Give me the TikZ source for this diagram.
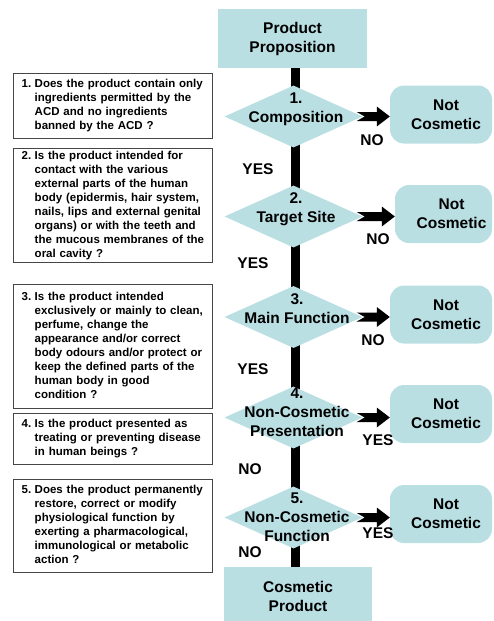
\documentclass[tikz,border=0pt]{standalone}
\usepackage{fontspec}
\setmainfont{Liberation Sans}
\usetikzlibrary{shapes.geometric,calc}
\definecolor{teal1}{RGB}{185,223,227}
\definecolor{boxgray}{RGB}{70,70,70}
\newcommand\bigfont{\fontsize{15.5}{19}\selectfont\bfseries}
\newcommand\smallfont{\fontsize{11.5}{14}\selectfont\bfseries}
\newcommand\qtext[2]{\begin{tabular}{@{}l@{\hspace{3.5pt}}l@{}}#1&#2\end{tabular}}
\newcommand\blockarrow[2]{%
  \fill[black] let \p1=($(#1.east)+(-6pt,0pt)$), \p2=(#1.east -| #2.west) in
    (\x1,\y1+4.5pt) -- (\x2-13pt,\y1+4.5pt) -- (\x2-13pt,\y1+10pt) -- (\x2,\y1)
    -- (\x2-13pt,\y1-10pt) -- (\x2-13pt,\y1-4.5pt) -- (\x1,\y1-4.5pt)
    -- (\x1+8pt,\y1) -- cycle;}
\begin{document}
\begin{tikzpicture}[x=1pt,y=-1pt,
  term/.style={fill=teal1, minimum width=149pt, minimum height=59pt, inner sep=0pt, align=center, font=\bigfont},
  nc/.style={fill=teal1, rounded corners=14pt, minimum height=58pt, inner sep=0pt},
  nctext/.style={align=center, font=\bigfont, inner sep=0pt},
  dia/.style={diamond, fill=teal1, minimum width=138pt, minimum height=62pt, inner sep=0pt},
  dtext/.style={align=center, font=\bigfont, inner sep=0pt},
  lbl/.style={font=\bigfont, inner sep=0pt},
  qbox/.style={draw=boxgray, line width=1.3pt, anchor=north west, text width=183pt, inner xsep=8pt, inner ysep=0pt, font=\smallfont, align=left},
  spine/.style={line width=9pt, black}]
\useasboundingbox (0,0) rectangle (494,621);

% terminal boxes
\node[term] (top) at (292.5,38.5) {Product\\Proposition};
\node[term, minimum width=148pt, anchor=north] (bot) at (298,567) {Cosmetic\\Product};

% spine
\draw[spine] ([xshift=3pt]top.south) -- ([xshift=-2.5pt]bot.north);

% diamonds
\node[dia] (d1) at (293.5,116.5) {};
\node[dia] (d2) at (293.5,216.5) {};
\node[dia] (d3) at (293.5,317) {};
\node[dia] (d4) at (293.5,417.5) {};
\node[dia] (d5) at (293.5,517.5) {};
\node[dtext] (t1) at (296,109) {1.\\Composition};
\node[dtext] (t2) at (296,209) {2.\\Target Site};
\node[dtext] (t3) at (297,308.5) {3.\\Main Function};
\node[dtext] (t4) at (297,412) {4.\\Non-Cosmetic\\Presentation};
\node[dtext] (t5) at (297,517) {5.\\Non-Cosmetic\\Function};

% not cosmetic boxes
\node[nc, minimum width=102pt] (n1) at (441,114.5) {};
\node[nc, minimum width=97pt] (n2) at (443.5,214) {};
\node[nc, minimum width=102pt] (n3) at (441,314.5) {};
\node[nc, minimum width=102pt] (n4) at (441,414) {};
\node[nc, minimum width=102pt] (n5) at (441,514) {};
\node[nctext] (m1) at ([xshift=5pt]n1.center) {Not\\Cosmetic};
\node[nctext] (m2) at ([xshift=8pt]n2.center) {Not\\Cosmetic};
\node[nctext] (m3) at ([xshift=5pt]n3.center) {Not\\Cosmetic};
\node[nctext] (m4) at ([xshift=5pt]n4.center) {Not\\Cosmetic};
\node[nctext] (m5) at ([xshift=5pt]n5.center) {Not\\Cosmetic};

% arrows
\blockarrow{d1}{n1}
\blockarrow{d2}{n2}
\blockarrow{d3}{n3}
\blockarrow{d4}{n4}
\blockarrow{d5}{n5}

% labels
\node[lbl] (l1) at (372,140) {NO};
\node[lbl] (l2) at (258,169) {YES};
\node[lbl] (l3) at (378,239) {NO};
\node[lbl] (l4) at (253,263) {YES};
\node[lbl] (l5) at (373,340) {NO};
\node[lbl] (l6) at (253,369) {YES};
\node[lbl] (l7) at (378,440) {YES};
\node[lbl] (l8) at (250,469) {NO};
\node[lbl] (l9) at (378,533) {YES};
\node[lbl] (l10) at (250,552) {NO};

% question boxes
\node[qbox, minimum height=65pt] (q1) at (13,73) {\qtext{1.}{Does the product contain only\\&ingredients permitted by the\\&ACD and no ingredients\\&banned by the ACD ?}};
\node[qbox, minimum height=114pt] (q2) at (13,148) {\qtext{2.}{Is the product intended for\\&contact with the various\\&external parts of the human\\&body (epidermis, hair system,\\&nails, lips and external genital\\&organs) or with the teeth and\\&the mucous membranes of the\\&oral cavity ?}};
\node[qbox, minimum height=124pt] (q3) at (13,284) {\qtext{3.}{Is the product intended\\&exclusively or mainly to clean,\\&perfume, change the\\&appearance and/or correct\\&body odours and/or protect or\\&keep the defined parts of the\\&human body in good\\&condition ?}};
\node[qbox, minimum height=51pt] (q4) at (13,413) {\qtext{4.}{Is the product presented as\\&treating or preventing disease\\&in human beings ?}};
\node[qbox, minimum height=93pt] (q5) at (13,479) {\qtext{5.}{Does the product permanently\\&restore, correct or modify\\&physiological function by\\&exerting a pharmacological,\\&immunological or metabolic\\&action ?}};
\end{tikzpicture}
\end{document}
